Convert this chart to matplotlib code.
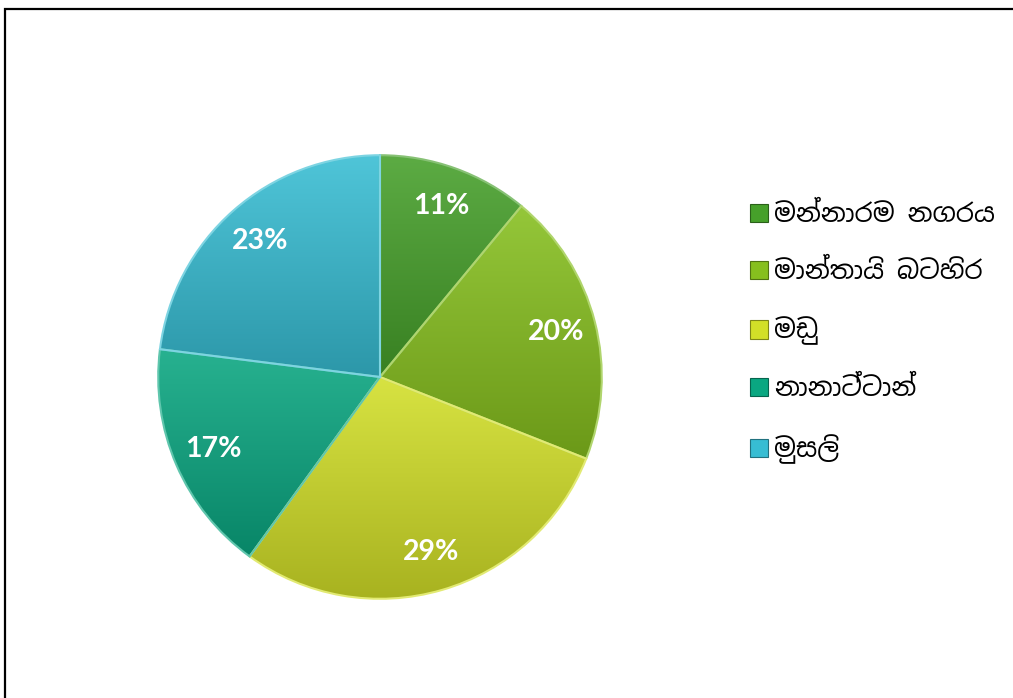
import numpy as np
import matplotlib.pyplot as plt
from matplotlib.patches import Rectangle, Patch
from matplotlib.colors import LinearSegmentedColormap, to_rgb

# data
categories = ['මන්නාරම නගරය', 'මාන්තායි බටහිර', 'මඩු', 'නානාට්ටාන්', 'මුසලි']
values = [11, 20, 29, 17, 23]
colors = ['#46a02a', '#86bf1e', '#d2df28', '#0aa781', '#37bdd3']

W, H = 1013, 698
fig = plt.figure(figsize=(W / 100, H / 100), dpi=100)

# pie axes: centre (380, 377) px, radius 224 px
cx, cy, r = 380, 377, 224
ax = fig.add_axes([(cx - r) / W, (H - cy - r) / H, 2 * r / W, 2 * r / H])

wedges, texts, autotexts = ax.pie(
    values, colors=colors, startangle=90, counterclock=False,
    autopct=lambda p: f'{p:.0f}%', pctdistance=0.82,
    wedgeprops=dict(linewidth=1.5, edgecolor='#e8f4d0'),
    textprops=dict(color='white', fontsize=20.5, fontweight='bold', family='Lato'))


def shade(c, f):
    rgb = np.array(to_rgb(c))
    if f > 1:
        return tuple(rgb + (1 - rgb) * (f - 1))
    return tuple(rgb * f)


# fake the glossy look: vertical gradient per slice, clipped to the wedge
for w, c in zip(wedges, colors):
    x0, y0, x1, y1 = w.get_path().get_extents(w.get_patch_transform()).extents
    cmap = LinearSegmentedColormap.from_list('g', [shade(c, 0.8), shade(c, 1.12)])
    grad = np.linspace(0, 1, 256).reshape(-1, 1)
    im = ax.imshow(grad, cmap=cmap, origin='lower', aspect='auto',
                   extent=[x0, x1, y0, y1], zorder=0.5)
    im.set_clip_path(w)
    w.set_facecolor('none')
    w.set_edgecolor(shade(c, 1.35))

ax.set_xlim(-1.01, 1.01)
ax.set_ylim(-1.01, 1.01)
ax.set_aspect('equal')
ax.axis('off')

handles = [Patch(facecolor=c, edgecolor=shade(c, 0.6), linewidth=0.8) for c in colors]
fig.legend(handles, categories, loc='upper left',
           bbox_to_anchor=(737 / W, (H - 190) / H), frameon=False,
           handlelength=0.7, handleheight=0.7, handletextpad=0.25,
           labelspacing=1.23, borderpad=0,
           prop=dict(family=['Noto Sans Sinhala', 'Iskoola Pota',
                             'Noto Serif Sinhala', 'DejaVu Sans'], size=18.6))

# outer chart border (right and bottom run off the image)
fig.add_artist(Rectangle((4.5 / W, -0.05), 1.2, (H - 8.5) / H + 0.05,
                         transform=fig.transFigure, fill=False,
                         edgecolor='black', linewidth=1.6))

fig.savefig('out.png', dpi=100)
